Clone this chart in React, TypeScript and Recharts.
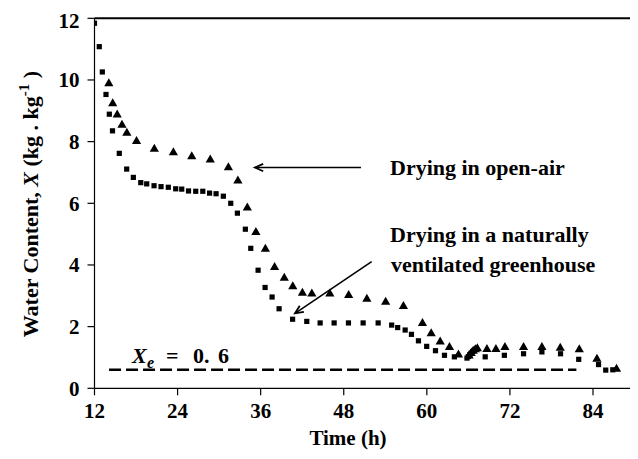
import React from 'react';
import { ScatterChart, Scatter, XAxis, YAxis, ReferenceLine, Customized } from 'recharts';

const FONT = "'Times New Roman', 'Liberation Serif', serif";

// Drying in a naturally ventilated greenhouse (squares)
const greenhouseHours = [
  12, 12.69, 13.13, 13.66, 14.14, 14.6, 15.58, 16.65, 17.61, 18.68, 19.54, 20.6, 21.61, 22.66, 23.73,
  24.6, 25.58, 26.62, 27.64, 28.62, 29.56, 30.61, 31.68, 32.64, 33.79, 34.57, 35.63, 36.64, 37.65, 38.66,
  40.61, 42.66, 44.59, 46.61, 48.68, 50.8, 52.97, 54.92, 55.79, 56.87, 57.78, 58.79, 59.98, 61.25, 62.55,
  63.98, 65.8, 66.0, 66.2, 66.4, 66.6, 66.8, 68.43, 71.2, 73.97, 76.62, 79.31, 81.94, 84.8, 85.84, 86.86,
];
const greenhouseWater = [
  11.84, 11.08, 10.26, 9.53, 8.89, 8.35, 7.62, 7.11, 6.84, 6.67, 6.63, 6.57, 6.54, 6.52, 6.47,
  6.46, 6.4, 6.39, 6.39, 6.33, 6.31, 6.23, 6.0, 5.68, 5.16, 4.54, 3.83, 3.27, 2.96, 2.58,
  2.24, 2.17, 2.12, 2.12, 2.12, 2.12, 2.12, 2.05, 1.97, 1.89, 1.75, 1.54, 1.36, 1.22, 1.07,
  1.02, 0.98, 1.03, 1.09, 1.14, 1.19, 1.23, 1.02, 1.07, 1.12, 1.18, 1.12, 0.94, 0.77, 0.59, 0.6,
];

// Drying in open-air (triangles)
const openAirHours = [
  14.07, 14.63, 15.28, 15.97, 16.67, 18.07, 20.64, 23.39, 26.05, 28.72, 31.34, 32.71, 34.07, 35.31, 36.68,
  38.01, 39.41, 40.64, 42.03, 43.39, 45.99, 48.71, 51.34, 54.05, 56.62, 59.37, 60.63, 61.93, 63.27, 64.57,
  66.1, 66.4, 66.7, 67.0, 67.3, 68.68, 69.98, 71.28, 73.97, 76.62, 79.27, 82.02, 84.57, 87.4, 89.96,
];
const openAirWater = [
  9.91, 9.26, 8.89, 8.56, 8.3, 8.03, 7.78, 7.67, 7.54, 7.43, 7.18, 6.75, 5.88, 5.08, 4.54,
  3.95, 3.6, 3.32, 3.11, 3.09, 3.09, 3.04, 2.92, 2.82, 2.68, 2.13, 1.8, 1.53, 1.35, 1.11,
  1.08, 1.16, 1.23, 1.28, 1.31, 1.29, 1.29, 1.35, 1.35, 1.35, 1.33, 1.28, 0.97, 0.65, 0.59,
];

const timeTicks = [12, 24, 36, 48, 60, 72, 84];
const waterTicks = [0, 2, 4, 6, 8, 10, 12];

// Equilibrium moisture content line
const equilibriumWater = 0.6;
const equilibriumStart = 14.1;
const equilibriumEnd = 81.6;

// Annotation arrows (time, water content)
const openAirArrow = [{ x: 50.49, y: 7.16 }, { x: 35.18, y: 7.16 }];
const greenhouseArrow = [{ x: 52.03, y: 4.11 }, { x: 40.96, y: 2.43 }];

const greenhouseData = greenhouseHours.map((t, i) => ({ t, w: greenhouseWater[i] }));
const openAirData = openAirHours.map((t, i) => ({ t, w: openAirWater[i] }));

const Square = (p: any) => (
  <rect x={p.cx - 2.6} y={p.cy - 2.6} width={5.2} height={5.2} fill="#000" />
);

const Triangle = (p: any) => (
  <path
    d={`M${p.cx},${p.cy - 4.6}L${p.cx + 4.6},${p.cy + 3.4}L${p.cx - 4.6},${p.cy + 3.4}Z`}
    fill="#000"
  />
);

const Arrow = (p: any) => {
  const { x1, y1, x2, y2 } = p;
  const ang = Math.atan2(y2 - y1, x2 - x1);
  const len = 9;
  const spread = 0.42;
  const ax = x2 - len * Math.cos(ang - spread);
  const ay = y2 - len * Math.sin(ang - spread);
  const bx = x2 - len * Math.cos(ang + spread);
  const by = y2 - len * Math.sin(ang + spread);
  return (
    <g>
      <line x1={x1} y1={y1} x2={x2} y2={y2} stroke="#000" strokeWidth={1.6} />
      <path d={`M${ax},${ay}L${x2},${y2}L${bx},${by}`} fill="none" stroke="#000" strokeWidth={1.8} />
    </g>
  );
};

const textStyle = { fontFamily: FONT, fontWeight: 'bold' as const, fontSize: 22, fill: '#000' };

const Annotations = () => (
  <g>
    <text x={382} y={167} style={textStyle}>Drying in open-air</text>
    <text x={382} y={234} style={textStyle}>Drying in a naturally</text>
    <text x={383} y={264} style={textStyle}>ventilated greenhouse</text>
    <text y={355} style={textStyle}>
      <tspan x={124} fontStyle="italic">X</tspan>
      <tspan x={139} fontStyle="italic" fontSize={16} dy={5}>e</tspan>
      <tspan x={158} dy={-5}>=</tspan>
      <tspan x={185}>0.</tspan>
      <tspan x={210}>6</tspan>
    </text>
    <text x={340} y={437} textAnchor="middle" style={{ ...textStyle, fontSize: 21 }}>Time (h)</text>
    <text x={30} y={196} textAnchor="middle" transform="rotate(-90 30 196)" style={textStyle}>
      <tspan>Water Content,  </tspan>
      <tspan fontStyle="italic">X</tspan>
      <tspan>{'  (kg . kg'}</tspan>
      <tspan fontSize={15} dy={-9}>-1</tspan>
      <tspan dy={9}>{' )'}</tspan>
    </text>
  </g>
);

const tickStyle = { fill: '#000', fontSize: 21, fontWeight: 'bold', fontFamily: FONT };

export default function App() {
  return (
    <ScatterChart
      width={630}
      height={451}
      margin={{ top: 10.3, right: 0, bottom: 0, left: 0 }}
      style={{ background: '#fff' }}
    >
      <XAxis
        type="number"
        dataKey="t"
        domain={[12, 90.5]}
        ticks={timeTicks}
        allowDataOverflow
        height={70.7}
        tickSize={7}
        tickMargin={8}
        tick={tickStyle}
        axisLine={{ stroke: '#000', strokeWidth: 1.2 }}
        tickLine={{ stroke: '#000', strokeWidth: 1.2 }}
      />
      <YAxis
        type="number"
        dataKey="w"
        domain={[0, 12]}
        ticks={waterTicks}
        width={86.5}
        tickSize={7}
        tickMargin={8}
        tick={tickStyle}
        axisLine={{ stroke: '#000', strokeWidth: 1.2 }}
        tickLine={{ stroke: '#000', strokeWidth: 1.2 }}
      />
      <ReferenceLine y={12} stroke="#000" strokeWidth={2} />
      <ReferenceLine
        segment={[
          { x: equilibriumStart, y: equilibriumWater },
          { x: equilibriumEnd, y: equilibriumWater },
        ]}
        stroke="#000"
        strokeWidth={2.6}
        strokeDasharray="12 5"
      />
      <ReferenceLine segment={openAirArrow} shape={Arrow} />
      <ReferenceLine segment={greenhouseArrow} shape={Arrow} />
      <Scatter data={greenhouseData} shape={Square} isAnimationActive={false} />
      <Scatter data={openAirData} shape={Triangle} isAnimationActive={false} />
      <Customized component={Annotations} />
    </ScatterChart>
  );
}
